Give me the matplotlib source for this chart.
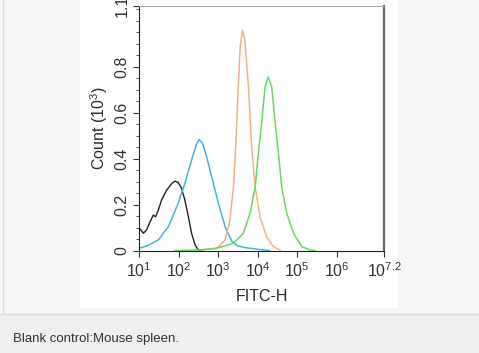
import numpy as np
import matplotlib
matplotlib.use("Agg")
import matplotlib.pyplot as plt
from matplotlib.ticker import FixedLocator, LogLocator, NullFormatter, MultipleLocator
from matplotlib.patches import Rectangle
from matplotlib.lines import Line2D

plt.rcParams['font.family'] = ['Liberation Sans', 'DejaVu Sans']
plt.rcParams['mathtext.fontset'] = 'custom'
plt.rcParams['mathtext.rm'] = 'Liberation Sans'
plt.rcParams['mathtext.it'] = 'Liberation Sans:italic'

# curves: log10(FITC-H) and count (10^3)
black_log = [1.0, 1.11, 1.19, 1.28, 1.36, 1.42, 1.49, 1.57, 1.70, 1.83, 1.91, 1.99,
             2.08, 2.16, 2.25, 2.33, 2.42, 2.50, 2.60]
black_cnt = [0.10, 0.075, 0.089, 0.125, 0.154, 0.147, 0.176, 0.22, 0.263, 0.292, 0.302, 0.297,
             0.27, 0.22, 0.147, 0.075, 0.024, 0.002, 0.0]

cyan_log = [1.0, 1.2, 1.49, 1.74, 1.99, 2.16, 2.33, 2.45, 2.52, 2.60, 2.71, 2.84,
            3.01, 3.18, 3.35, 3.50, 3.70, 3.90, 4.10, 4.30]
cyan_cnt = [0.01, 0.02, 0.046, 0.103, 0.205, 0.292, 0.393, 0.46, 0.483, 0.47, 0.41, 0.32,
            0.205, 0.103, 0.04, 0.02, 0.012, 0.008, 0.003, 0.0]

orange_log = [2.54, 2.97, 3.18, 3.30, 3.39, 3.46, 3.51, 3.56, 3.62, 3.68, 3.77, 3.85,
              3.94, 4.06, 4.23, 4.40, 4.57]
orange_cnt = [0.002, 0.01, 0.046, 0.133, 0.277, 0.495, 0.712, 0.886, 0.959, 0.915, 0.712, 0.451,
              0.277, 0.147, 0.06, 0.017, 0.002]

green_log = [1.9, 2.54, 2.97, 3.39, 3.64, 3.81, 3.94, 4.02, 4.11, 4.19, 4.27, 4.36,
             4.44, 4.53, 4.61, 4.74, 4.91, 5.12, 5.33, 5.45]
green_cnt = [0.0, 0.002, 0.01, 0.031, 0.075, 0.162, 0.277, 0.423, 0.567, 0.712, 0.756, 0.712,
             0.567, 0.423, 0.277, 0.162, 0.075, 0.017, 0.002, 0.0]

xtick_exp = ['1', '2', '3', '4', '5', '6', '7.2']
ytick_labels = ['0', '0.2', '0.4', '0.6', '0.8', '1.1']
y_top = 1.065

fig = plt.figure(figsize=(4.79, 3.53), dpi=100, facecolor='#f5f6f5')

# white panel, caption strip and borders (behind the axes)
fig.patches.append(Rectangle((80/479, 1 - 308/353), 318/479, 308/353, transform=fig.transFigure,
                             facecolor='white', edgecolor='none', zorder=-10))
fig.patches.append(Rectangle((0, 0), 1, 39/353, transform=fig.transFigure,
                             facecolor='#eef0ef', edgecolor='none', zorder=-10))
fig.lines.append(Line2D([0, 1], [39/353, 39/353], transform=fig.transFigure,
                        color='#d9dbd9', lw=1, zorder=-5))
fig.lines.append(Line2D([2.5/479, 2.5/479], [39/353, 1], transform=fig.transFigure,
                        color='#dcdcdc', lw=1, zorder=-5))

ax = fig.add_axes([139/479, 102.5/353, 245/479, 244.5/353])
ax.set_facecolor('white')

ax.plot([10**v for v in black_log], black_cnt, color='#222222', lw=1)
ax.plot([10**v for v in cyan_log], cyan_cnt, color='#42b5dc', lw=1.1)
ax.plot([10**v for v in orange_log], orange_cnt, color='#f4b184', lw=1.1)
ax.plot([10**v for v in green_log], green_cnt, color='#66d966', lw=1.1)

ax.set_xscale('log')
ax.set_xlim(10**1, 10**7.2)
ax.set_ylim(0, y_top)

xt = [10**float(e) for e in xtick_exp]
ax.xaxis.set_major_locator(FixedLocator(xt))
ax.set_xticklabels([r'$10^{%s}$' % e for e in xtick_exp])
ax.xaxis.set_minor_locator(LogLocator(base=10, subs=np.arange(2, 10)))
ax.xaxis.set_minor_formatter(NullFormatter())

ax.yaxis.set_major_locator(FixedLocator([0, 0.2, 0.4, 0.6, 0.8, y_top]))
ax.set_yticklabels(ytick_labels, rotation=90, va='center')
ax.yaxis.set_minor_locator(MultipleLocator(0.05))

ax.tick_params(which='major', length=4, width=0.8, color='#333333', labelsize=11.5,
               labelcolor='#333333', pad=3)
ax.tick_params(axis='x', which='major', pad=4)
ax.tick_params(which='minor', length=2.5, width=0.6, color='#333333')

ax.spines['left'].set_color('#222222')
ax.spines['bottom'].set_color('#222222')
ax.spines['top'].set_color('#aaaaaa')
ax.spines['top'].set_linewidth(0.8)
ax.spines['right'].set_color('#666666')
ax.spines['right'].set_linewidth(1.6)

ax.set_xlabel('FITC-H', fontsize=11.5, color='#2a2a2a', labelpad=6)
ax.set_ylabel(r'Count (10$^3$)', fontsize=11.5, color='#2a2a2a', labelpad=3)

fig.text(13/479, 14/353, 'Blank control:Mouse spleen.', fontsize=9.5, color='#333333', va='center')

fig.savefig('out.png', dpi=100, facecolor=fig.get_facecolor())
